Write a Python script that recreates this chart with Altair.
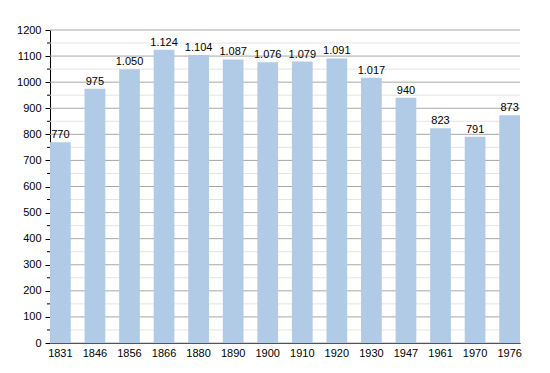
import altair as alt
import pandas as pd

years = ["1831", "1846", "1856", "1866", "1880", "1890", "1900", "1910", "1920", "1930", "1947", "1961", "1970", "1976"]
population = [770, 975, 1050, 1124, 1104, 1087, 1076, 1079, 1091, 1017, 940, 823, 791, 873]
labels = ["770", "975", "1.050", "1.124", "1.104", "1.087", "1.076", "1.079", "1.091", "1.017", "940", "823", "791", "873"]
major_ticks = list(range(0, 1201, 100))
minor_ticks = list(range(50, 1201, 100))

df = pd.DataFrame({"year": years, "pop": population, "label": labels})
major_df = pd.DataFrame({"v": major_ticks})
minor_df = pd.DataFrame({"v": minor_ticks})

FONT = "Liberation Sans"
yscale = alt.Scale(domain=[0, 1200], nice=False)
yaxis = alt.Axis(values=major_ticks, format="d", grid=False, labelOverlap=False,
                 tickSize=5, tickColor="#000", domainColor="#000", domainWidth=1,
                 labelFont=FONT, labelFontSize=11, labelColor="#000", labelPadding=4)

x = alt.X("year:N", sort=years, title=None,
          scale=alt.Scale(paddingInner=0.4, paddingOuter=0.0),
          axis=alt.Axis(labelAngle=0, ticks=False, domainColor="#000", domainWidth=1,
                        labelFont=FONT, labelFontSize=11, labelColor="#000", labelPadding=4))

minor_grid = alt.Chart(minor_df).mark_rule(color="#e4e4e4", strokeWidth=1).encode(
    y=alt.Y("v:Q", scale=yscale, title=None, axis=yaxis))
minor_ticks_mark = alt.Chart(minor_df).mark_rule(color="#000", strokeWidth=1).encode(
    y=alt.Y("v:Q", scale=yscale, title=None, axis=yaxis),
    x=alt.value(-3), x2=alt.value(0))
major_grid = alt.Chart(major_df).mark_rule(color="#a8a8a8", strokeWidth=1).encode(
    y=alt.Y("v:Q", scale=yscale, title=None, axis=yaxis))

bars = alt.Chart(df).mark_bar(color="#b1cbe6").encode(
    x=x, y=alt.Y("pop:Q", scale=yscale, title=None, axis=yaxis))
text = alt.Chart(df).mark_text(baseline="bottom", dy=-2, font=FONT, fontSize=11, color="#000").encode(
    x=alt.X("year:N", sort=years), y=alt.Y("pop:Q", scale=yscale, title=None, axis=yaxis), text="label:N")

chart = alt.layer(minor_grid, major_grid, minor_ticks_mark, bars, text).properties(
    width=470, height=313,
    autosize=alt.AutoSizeParams(type="none"),
    padding={"left": 42, "top": 22, "right": 10, "bottom": 30},
).configure_view(stroke=None)

chart.save("out.html", embed_options={"renderer": "svg", "actions": False})
